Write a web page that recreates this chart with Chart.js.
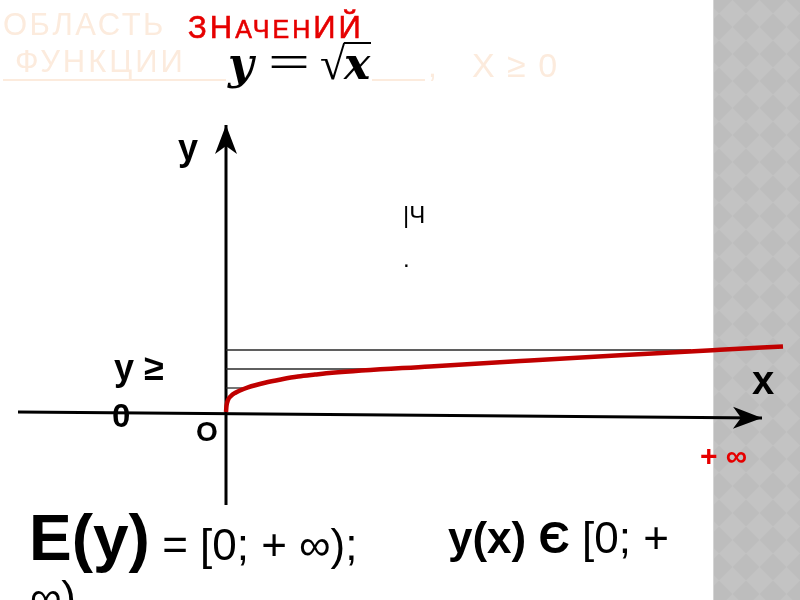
<!DOCTYPE html>
<html>
<head>
<meta charset="utf-8">
<script src="https://cdn.jsdelivr.net/npm/chart.js@4.4.1/dist/chart.umd.min.js"></script>
<style>
  html, body { margin: 0; padding: 0; background: #ffffff; width: 800px; height: 600px; overflow: hidden; }
  #wrap { position: relative; width: 800px; height: 600px; }
  #strip { position: absolute; left: 713px; top: 0; width: 87px; height: 600px;
    background-color: #bdbdbd;
    background-image: url("data:image/svg+xml;utf8,<svg xmlns='http://www.w3.org/2000/svg' width='27' height='27'><polygon points='13.5,0 27,13.5 13.5,27 0,13.5' fill='%23c3c3c3'/></svg>");
    background-size: 27px 27px; background-position: 5px 0; border-left: 1px solid #d4d4d4; box-sizing: border-box; }
  canvas { position: absolute; left: 0; top: 0; }
  .t { position: absolute; white-space: pre; margin: 0; padding: 0; }
  .ul { position: absolute; height: 2px; background: #fcebdd; }
</style>
</head>
<body>
<div id="wrap">
  <div id="strip"></div>
  <canvas id="c" width="800" height="600"></canvas>
  <div class="ul" style="left:3px; top:79px; width:223px;"></div>
  <div class="ul" style="left:372px; top:79px; width:53px;"></div>
  <div class="ul" style="left:344px; top:42px; width:27px; height:2px; background:#000;"></div>
</div>
<script>
// ---- data (chart units) ----
const curveX = [0, 0.01, 0.04, 0.1, 0.18, 0.28, 0.44, 0.78, 1.12, 1.44, 1.78, 2.12, 4.08, 6.08, 7.88, 9.88, 11.14];
const curveY = [0, 0.12, 0.24, 0.32, 0.38, 0.43, 0.494, 0.586, 0.654, 0.708, 0.748, 0.784, 0.912, 1.032, 1.136, 1.244, 1.31];
const levelY = [1.24, 0.86, 0.48];
const levelEndX = [9.3, 3.5, 0.4];
const xAxisX = [-4.16, 10.72];
const xAxisY = [0, -0.12];
const yAxisX = [0, 0];
const yAxisY = [-1.86, 5.74];

const xMin = -4.52, xMax = 11.48, yMin = -3.76, yMax = 8.24;

const curveData = curveX.map((x, i) => ({ x: x, y: curveY[i] }));
const levelSets = levelY.map((y, i) => ({
  data: [{ x: 0, y: y }, { x: levelEndX[i], y: y }],
  showLine: true, borderColor: '#2a2a2a', borderWidth: 1.3, pointRadius: 0, order: 2
}));

const arrowPlugin = {
  id: 'arrows',
  afterDatasetsDraw(chart) {
    const ctx = chart.ctx;
    [chart.data.datasets.length - 2, chart.data.datasets.length - 1].forEach(idx => {
      const pts = chart.getDatasetMeta(idx).data;
      const a = pts[pts.length - 2], b = pts[pts.length - 1];
      const ang = Math.atan2(b.y - a.y, b.x - a.x);
      const L = 29, W = 11, N = 21;
      ctx.save();
      ctx.translate(b.x, b.y);
      ctx.rotate(ang);
      ctx.beginPath();
      ctx.moveTo(0, 0);
      ctx.lineTo(-L, -W);
      ctx.lineTo(-N, 0);
      ctx.lineTo(-L, W);
      ctx.closePath();
      ctx.fillStyle = '#000';
      ctx.fill();
      ctx.restore();
    });
  }
};

new Chart(document.getElementById('c'), {
  type: 'scatter',
  data: {
    datasets: [
      { data: curveData, showLine: true, borderColor: '#c00000', borderWidth: 4.5, pointRadius: 0,
        cubicInterpolationMode: 'monotone', order: 0 },
      ...levelSets,
      { data: xAxisX.map((x, i) => ({ x: x, y: xAxisY[i] })), showLine: true, borderColor: '#000',
        borderWidth: 3, pointRadius: 0, order: 3 },
      { data: yAxisX.map((x, i) => ({ x: x, y: yAxisY[i] })), showLine: true, borderColor: '#000',
        borderWidth: 3, pointRadius: 0, order: 3 }
    ]
  },
  options: {
    responsive: false, animation: false,
    layout: { padding: 0 },
    plugins: { legend: { display: false }, tooltip: { enabled: false } },
    scales: {
      x: { type: 'linear', min: xMin, max: xMax, display: false },
      y: { type: 'linear', min: yMin, max: yMax, display: false }
    }
  },
  plugins: [arrowPlugin]
});

// ---- text labels (real HTML text) ----
const wrap = document.getElementById('wrap');
function label(html, x, baseline, size, family, extra) {
  const d = document.createElement('div');
  d.className = 't';
  d.innerHTML = html;
  d.style.left = x + 'px';
  d.style.top = (baseline - 0.846 * size) + 'px';
  d.style.fontSize = size + 'px';
  d.style.lineHeight = size + 'px';
  d.style.fontFamily = family;
  if (extra) d.setAttribute('style', d.getAttribute('style') + ';' + extra);
  wrap.appendChild(d);
  return d;
}
const SANS = '"Liberation Sans", Arial, sans-serif';
const SERIF = '"DejaVu Serif", serif';
const LSERIF = '"Liberation Serif", serif';
const FAINT = 'color:#fcebdd';

label('ОБЛАСТЬ', 3, 35, 31, SANS, FAINT + '; letter-spacing:2.5px');
label('ЗН<span style="font-size:25px">АЧЕН</span>ИЙ', 188, 38, 31, SANS, 'color:#e60000; letter-spacing:3px; -webkit-text-stroke:0.6px #e60000');
label('ФУНКЦИИ', 15, 72, 31, SANS, FAINT + '; letter-spacing:3px');
label(',', 428, 77, 32, SANS, FAINT);
label('X ≥ 0', 472, 77, 34, SANS, FAINT + '; letter-spacing:1.5px');
label('y', 228, 79, 44, SERIF, 'font-weight:bold; font-style:italic');
label('=', 268, 79, 48, LSERIF, 'transform:scaleX(1.55); transform-origin:0 0');
label('√', 320, 80, 46, LSERIF, '');
label('x', 344, 79, 44, SERIF, 'font-weight:bold; font-style:italic');

label('y', 178, 160, 36, SANS, 'font-weight:bold');
label('|Ч', 403, 223, 24, SANS, '');
label('.', 403, 267, 24, SANS, '');
label('y ≥', 114, 380, 36, SANS, 'font-weight:bold');
label('0', 112, 427, 33, SANS, 'font-weight:bold');
label('O', 196, 442, 28, SANS, 'font-weight:bold');
label('x', 752, 394, 40, SANS, 'font-weight:bold');
label('+ ∞', 700, 466, 30, SANS, 'font-weight:bold; color:#e60000');

label('<b style="font-size:64px">E(y)</b> = [0; + ∞);', 29, 553, 44, SANS, '');
label('<b>y(x) Є</b> [0; +', 448, 553, 44, SANS, '');
label('∞)', 30, 612, 44, SANS, '');
</script>
</body>
</html>
